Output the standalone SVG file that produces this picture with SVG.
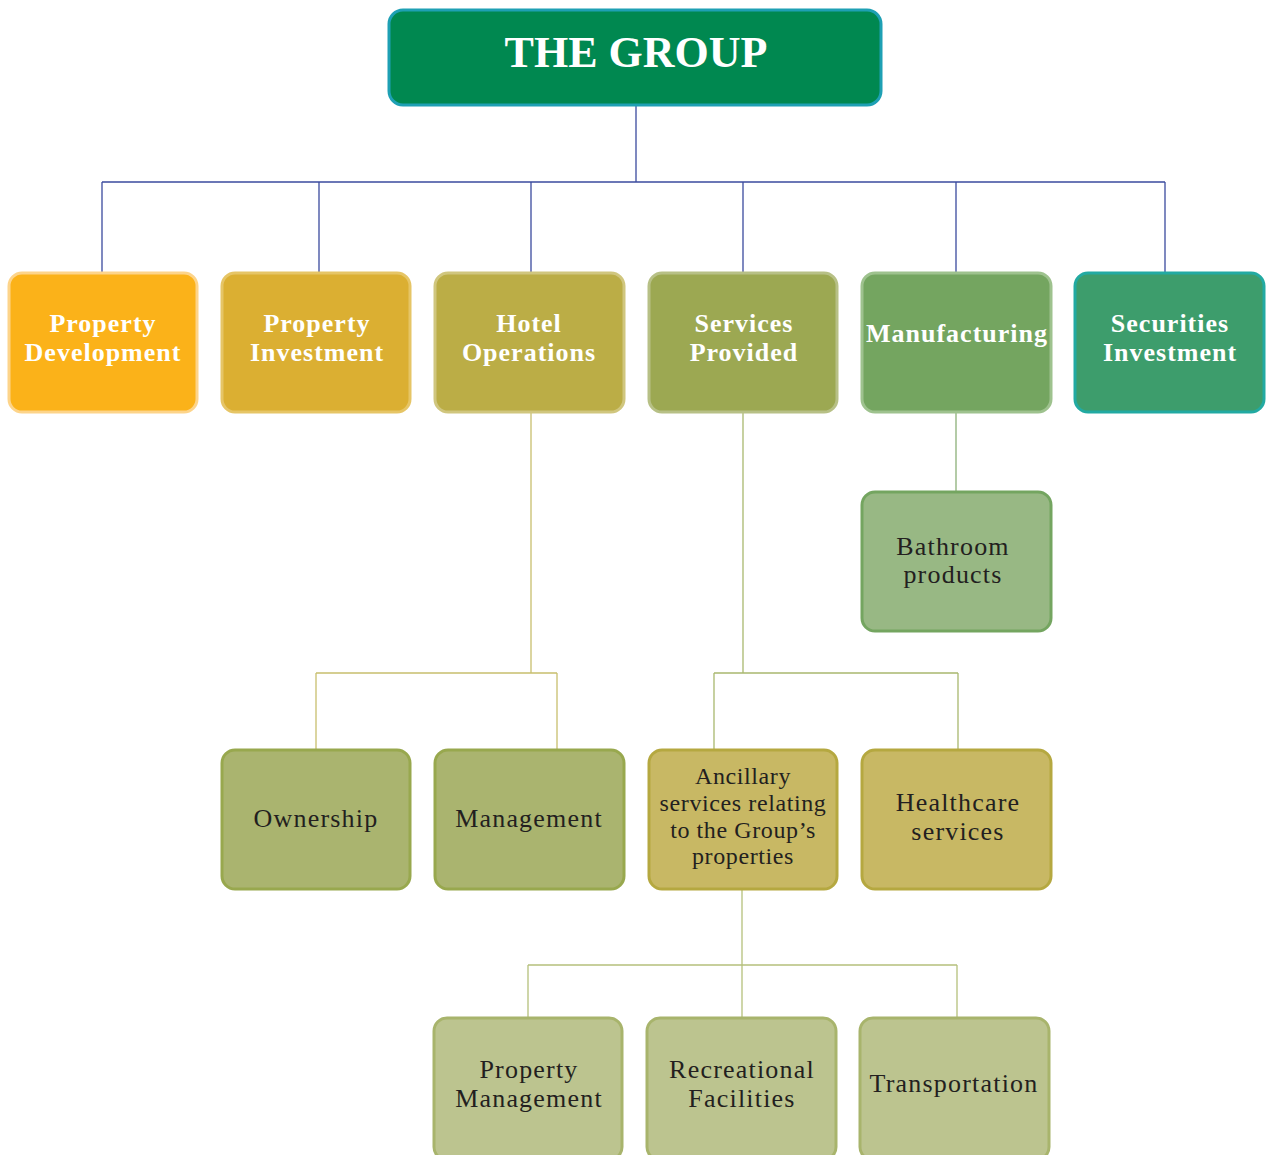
<svg xmlns="http://www.w3.org/2000/svg" width="1269" height="1155" viewBox="0 0 1269 1155">
<style>
.box{stroke-width:3}
.tw{font-family:"Liberation Serif",serif;font-weight:bold;fill:#ffffff;text-anchor:middle;font-size:26px;letter-spacing:1px}
.td{font-family:"Liberation Serif",serif;fill:#231f20;text-anchor:middle;font-size:26px;letter-spacing:1.2px}
.conn{fill:none;stroke-width:1.3}
</style>
<rect width="1269" height="1155" fill="#ffffff"/>
<g id="connectors">
<path class="conn" stroke="#3b4b9e" d="M636 105V182M102 182H1165M102 182V273M319 182V273M531 182V273M743 182V273M956 182V273M1165 182V273"/>
<path class="conn" stroke="#c8bf6e" d="M531 412V673M316 673H557M316 673V750M557 673V750"/>
<path class="conn" stroke="#a9b86f" d="M743 412V673M714 673H958M714 673V750M958 673V750"/>
<path class="conn" stroke="#8cb078" d="M956 412V492"/>
<path class="conn" stroke="#b5c07c" d="M742 889V965M528 965H957M528 965V1018M742 965V1018M957 965V1018"/>
</g>
<g id="the-group">
<rect class="box" x="389" y="10" width="492" height="95" rx="14" fill="#008850" stroke="#1ea0b4"/>
<text class="tw" x="636" y="67" style="font-size:44px;letter-spacing:0">THE GROUP</text>
</g>
<g id="property-development">
<rect class="box" x="9" y="273" width="188" height="139" rx="13" fill="#fbb219" stroke="#fdd48a"/>
<text class="tw" x="103" y="332">Property</text>
<text class="tw" x="103" y="361">Development</text>
</g>
<g id="property-investment">
<rect class="box" x="222" y="273" width="188" height="139" rx="13" fill="#dbaf32" stroke="#e6c566"/>
<text class="tw" x="317" y="332">Property</text>
<text class="tw" x="317" y="361">Investment</text>
</g>
<g id="hotel-operations">
<rect class="box" x="435" y="273" width="189" height="139" rx="13" fill="#bbad46" stroke="#d0c67e"/>
<text class="tw" x="529" y="332">Hotel</text>
<text class="tw" x="529" y="361">Operations</text>
</g>
<g id="services-provided">
<rect class="box" x="649" y="273" width="188" height="139" rx="13" fill="#9ca852" stroke="#b7c086"/>
<text class="tw" x="744" y="332">Services</text>
<text class="tw" x="744" y="361">Provided</text>
</g>
<g id="manufacturing">
<rect class="box" x="862" y="273" width="189" height="139" rx="13" fill="#74a560" stroke="#9ec28e"/>
<text class="tw" x="957" y="342">Manufacturing</text>
</g>
<g id="securities-investment">
<rect class="box" x="1075" y="273" width="189" height="139" rx="13" fill="#3d9d6c" stroke="#22aaa2"/>
<text class="tw" x="1170" y="332">Securities</text>
<text class="tw" x="1170" y="361">Investment</text>
</g>
<g id="bathroom-products">
<rect class="box" x="862" y="492" width="189" height="139" rx="13" fill="#98b884" stroke="#74a560"/>
<text class="td" x="953" y="555">Bathroom</text>
<text class="td" x="953" y="583">products</text>
</g>
<g id="ownership">
<rect class="box" x="222" y="750" width="188" height="139" rx="13" fill="#aab46f" stroke="#98a84e"/>
<text class="td" x="316" y="827">Ownership</text>
</g>
<g id="management">
<rect class="box" x="435" y="750" width="189" height="139" rx="13" fill="#aab46f" stroke="#98a84e"/>
<text class="td" x="529" y="827">Management</text>
</g>
<g id="ancillary-services">
<rect class="box" x="649" y="750" width="188" height="139" rx="13" fill="#c8b864" stroke="#b5a840"/>
<text class="td" x="743" y="784" style="font-size:24px;letter-spacing:0.6px">Ancillary</text>
<text class="td" x="743" y="811" style="font-size:24px;letter-spacing:0.6px">services relating</text>
<text class="td" x="743" y="838" style="font-size:24px;letter-spacing:0.6px">to the Group’s</text>
<text class="td" x="743" y="864" style="font-size:24px;letter-spacing:0.6px">properties</text>
</g>
<g id="healthcare-services">
<rect class="box" x="862" y="750" width="189" height="139" rx="13" fill="#c8b864" stroke="#b5a840"/>
<text class="td" x="958" y="811">Healthcare</text>
<text class="td" x="958" y="840">services</text>
</g>
<g id="property-management">
<rect class="box" x="434" y="1018" width="188" height="142" rx="13" fill="#bcc48f" stroke="#a8b46c"/>
<text class="td" x="529" y="1078">Property</text>
<text class="td" x="529" y="1107">Management</text>
</g>
<g id="recreational-facilities">
<rect class="box" x="647" y="1018" width="189" height="142" rx="13" fill="#bcc48f" stroke="#a8b46c"/>
<text class="td" x="742" y="1078">Recreational</text>
<text class="td" x="742" y="1107">Facilities</text>
</g>
<g id="transportation">
<rect class="box" x="860" y="1018" width="189" height="142" rx="13" fill="#bcc48f" stroke="#a8b46c"/>
<text class="td" x="954" y="1092">Transportation</text>
</g>
</svg>
